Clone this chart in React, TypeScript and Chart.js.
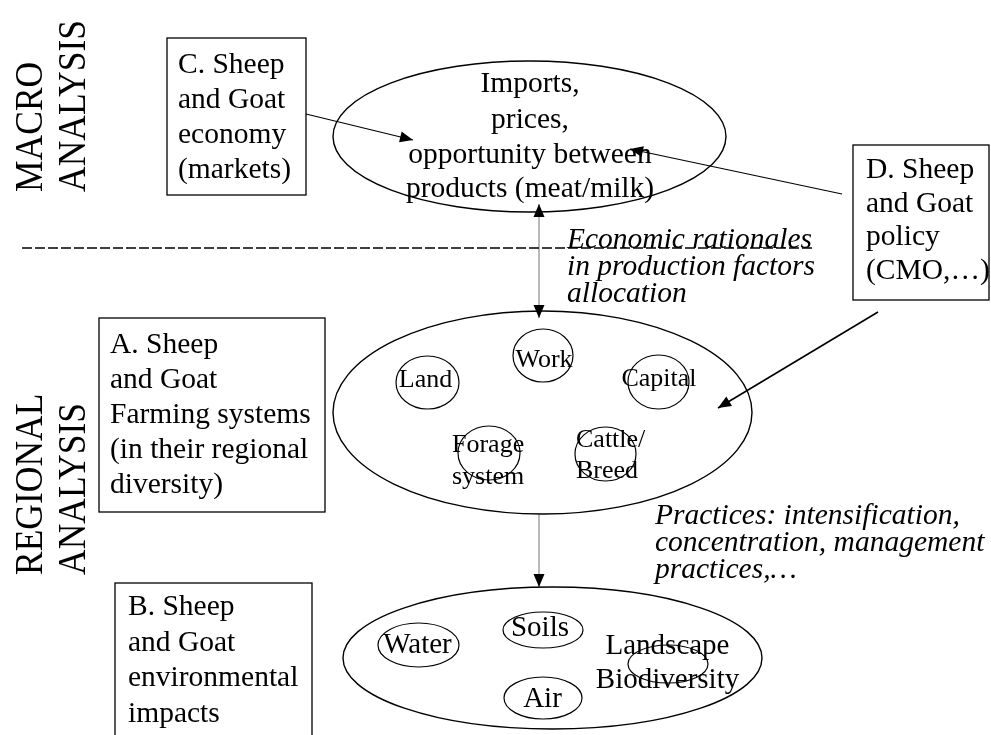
import React, { useEffect, useRef } from "react";
import { Chart, registerables } from "chart.js";

Chart.register(...registerables);

// ---- Diagram data (in data units of the x / y linear scales) ----
const SCALE_X_MAX = 991;
const SCALE_Y_MAX = 735;

// Vertical level labels
const levelColumns = [
  ["MACRO", "ANALYSIS"],
  ["REGIONAL", "ANALYSIS"],
];
const levelBaseY = [192, 575];
const levelColumnX = [42, 85];

// Boxes C, D, A, B
const boxTexts = [
  ["C. Sheep", "and Goat", "economy", "(markets)"],
  ["D. Sheep", "and Goat", "policy", "(CMO,…)"],
  ["A. Sheep", "and Goat", "Farming systems", "(in their regional", "diversity)"],
  ["B. Sheep", "and Goat", "environmental", "impacts"],
];
const boxLeft = [167, 853, 99, 115];
const boxTop = [38, 145, 318, 583];
const boxRight = [306, 989, 325, 312];
const boxBottom = [195, 300, 512, 760];
const boxTextX = [178, 866, 110, 128];
const boxFirstBaseline = [73, 178, 353, 615];
const boxLineStep = [35, 33.5, 35, 35.5];

// Large ellipses: macro, farming, environment
const bigCx = [529.5, 542.5, 552.5];
const bigCy = [136.5, 412.5, 658];
const bigRx = [196.5, 209.5, 209.5];
const bigRy = [75.5, 101.5, 71];

// Macro ellipse text
const macroLines = ["Imports,", "prices,", "opportunity between", "products (meat/milk)"];
const macroTextX = 530;
const macroBaselines = [92, 127.5, 163, 197];

// Small ellipses (factors and impacts)
const smallNames = ["Land", "Work", "Capital", "Forage", "Cattle", "Water", "Soils", "Air", "Landscape"];
const smallCx = [427.5, 543, 658.5, 489, 605.5, 418.5, 543, 543, 668];
const smallCy = [382.5, 355.5, 382, 453, 454, 645, 630, 698, 664];
const smallRx = [31.5, 30, 30.5, 31, 30.5, 40.5, 40, 39, 40];
const smallRy = [26.5, 26.5, 27, 27, 27, 22, 18, 21, 19];

// Labels of small ellipses
const factorLabels = [["Land"], ["Work"], ["Capital"], ["Forage", "system"], ["Cattle/", "Breed"]];
const factorX = [425.5, 544, 659, 452, 576];
const factorAlign = ["center", "center", "center", "left", "left"];
const factorBaseline = [387, 367, 386, 452, 447];
const factorStep = [0, 0, 0, 32, 31];

const impactLabels = [["Water"], ["Soils"], ["Air"], ["Landscape", "Biodiversity"]];
const impactX = [417.5, 540, 542.5, 667.5];
const impactBaseline = [653, 636, 707, 654];
const impactStep = [0, 0, 0, 34];

// Italic annotations
const annotations = [
  ["Economic rationales", "in production factors", "allocation"],
  ["Practices: intensification,", "concentration, management", "practices,…"],
];
const annotationX = [567, 655];
const annotationBaseline = [248, 524];
const annotationStep = 27;

// Connectors: [x0, y0, x1, y1]
const separator = [22, 248, 815, 248];
const arrowCtoMacro = [306, 114, 413, 140];
const arrowDtoMacro = [842, 194, 630, 149];
const arrowDtoFarm = [878, 312, 718, 408];
const linkMacroFarm = [539, 204, 539, 318];
const linkFarmEnv = [539, 514, 539, 587];

const FONT = '"Liberation Serif", "Times New Roman", serif';

function seg(s: number[]) {
  return [
    { x: s[0], y: s[1] },
    { x: s[2], y: s[3] },
  ];
}

const diagramPlugin = {
  id: "diagram",
  afterDatasetsDraw(chart: any) {
    const ctx: CanvasRenderingContext2D = chart.ctx;
    const xs = chart.scales.x;
    const ys = chart.scales.y;
    const px = (v: number) => xs.getPixelForValue(v);
    const py = (v: number) => ys.getPixelForValue(v);
    const dx = (v: number) => Math.abs(xs.getPixelForValue(v) - xs.getPixelForValue(0));
    const dy = (v: number) => Math.abs(ys.getPixelForValue(v) - ys.getPixelForValue(0));

    ctx.save();
    ctx.fillStyle = "#000";
    ctx.strokeStyle = "#000";

    // level labels (rotated)
    ctx.font = `35.5px ${FONT}`;
    ctx.textAlign = "left";
    ctx.textBaseline = "alphabetic";
    levelColumns.forEach((cols, i) => {
      cols.forEach((t, j) => {
        ctx.save();
        ctx.translate(px(levelColumnX[j]), py(levelBaseY[i]));
        ctx.rotate(-Math.PI / 2);
        ctx.scale(1, 1.15);
        ctx.fillText(t, 0, 0);
        ctx.restore();
      });
    });

    // boxes
    ctx.lineWidth = 1.3;
    boxTexts.forEach((lines, i) => {
      const x0 = px(boxLeft[i]);
      const y0 = py(boxTop[i]);
      ctx.strokeRect(x0, y0, px(boxRight[i]) - x0, py(boxBottom[i]) - y0);
      ctx.font = `29.5px ${FONT}`;
      ctx.textAlign = "left";
      lines.forEach((t, j) => {
        ctx.fillText(t, px(boxTextX[i]), py(boxFirstBaseline[i] + j * boxLineStep[i]));
      });
    });

    // big ellipses
    ctx.lineWidth = 1.4;
    bigCx.forEach((cx, i) => {
      ctx.beginPath();
      ctx.ellipse(px(cx), py(bigCy[i]), dx(bigRx[i]), dy(bigRy[i]), 0, 0, Math.PI * 2);
      ctx.stroke();
    });
    // small ellipses
    ctx.lineWidth = 1.2;
    smallCx.forEach((cx, i) => {
      ctx.beginPath();
      ctx.ellipse(px(cx), py(smallCy[i]), dx(smallRx[i]), dy(smallRy[i]), 0, 0, Math.PI * 2);
      ctx.stroke();
    });

    // macro text
    ctx.font = `29.5px ${FONT}`;
    ctx.textAlign = "center";
    macroLines.forEach((t, j) => ctx.fillText(t, px(macroTextX), py(macroBaselines[j])));

    // factor labels
    ctx.font = `26px ${FONT}`;
    factorLabels.forEach((lines, i) => {
      ctx.textAlign = factorAlign[i] as CanvasTextAlign;
      lines.forEach((t, j) => ctx.fillText(t, px(factorX[i]), py(factorBaseline[i] + j * factorStep[i])));
    });

    // impact labels
    ctx.font = `29px ${FONT}`;
    ctx.textAlign = "center";
    impactLabels.forEach((lines, i) => {
      lines.forEach((t, j) => ctx.fillText(t, px(impactX[i]), py(impactBaseline[i] + j * impactStep[i])));
    });

    // annotations
    ctx.font = `italic 29.5px ${FONT}`;
    ctx.textAlign = "left";
    annotations.forEach((lines, i) => {
      lines.forEach((t, j) => ctx.fillText(t, px(annotationX[i]), py(annotationBaseline[i] + j * annotationStep)));
    });

    // arrow heads from dataset meta
    chart.data.datasets.forEach((ds: any, di: number) => {
      const meta = chart.getDatasetMeta(di);
      const pts = meta.data;
      if (!pts || pts.length < 2) return;
      const head = (tip: any, from: any) => {
        const ang = Math.atan2(tip.y - from.y, tip.x - from.x);
        const L = 13;
        const W = 5.5;
        const bx = tip.x - L * Math.cos(ang);
        const by = tip.y - L * Math.sin(ang);
        ctx.beginPath();
        ctx.moveTo(tip.x, tip.y);
        ctx.lineTo(bx + W * Math.sin(ang), by - W * Math.cos(ang));
        ctx.lineTo(bx - W * Math.sin(ang), by + W * Math.cos(ang));
        ctx.closePath();
        ctx.fillStyle = "#000";
        ctx.fill();
      };
      if (ds.arrowEnd) head(pts[pts.length - 1], pts[pts.length - 2]);
      if (ds.arrowStart) head(pts[0], pts[1]);
    });

    ctx.restore();
  },
};

export default function App() {
  const ref = useRef<HTMLCanvasElement | null>(null);

  useEffect(() => {
    document.body.style.margin = "0";
    if (!ref.current) return;
    const line = (data: any, extra: any) => ({
      type: "line",
      data,
      showLine: true,
      fill: false,
      pointRadius: 0,
      pointHoverRadius: 0,
      borderColor: "#000",
      borderWidth: 1.2,
      ...extra,
    });
    const chart = new Chart(ref.current, {
      type: "scatter",
      data: {
        datasets: [
          line(seg(separator), { borderDash: [10, 3], borderWidth: 1.3 }),
          line(seg(arrowCtoMacro), { arrowEnd: true }),
          line(seg(arrowDtoMacro), { arrowEnd: true }),
          line(seg(arrowDtoFarm), { arrowEnd: true, borderWidth: 1.6 }),
          line(seg(linkMacroFarm), { arrowEnd: true, arrowStart: true, borderColor: "#b0b0b0", borderWidth: 1 }),
          line(seg(linkFarmEnv), { arrowEnd: true, borderColor: "#b0b0b0", borderWidth: 1 }),
        ] as any,
      },
      options: {
        animation: false,
        responsive: false,
        maintainAspectRatio: false,
        layout: { padding: 0 },
        plugins: { legend: { display: false }, tooltip: { enabled: false } },
        events: [],
        scales: {
          x: { type: "linear", min: 0, max: SCALE_X_MAX, display: false },
          y: { type: "linear", min: 0, max: SCALE_Y_MAX, reverse: true, display: false },
        },
      },
      plugins: [diagramPlugin],
    } as any);
    return () => chart.destroy();
  }, []);

  return (
    <div style={{ position: "absolute", left: 0, top: 0, width: 991, height: 735, background: "#fff" }}>
      <canvas ref={ref} width={991} height={735} style={{ display: "block" }} />
    </div>
  );
}
